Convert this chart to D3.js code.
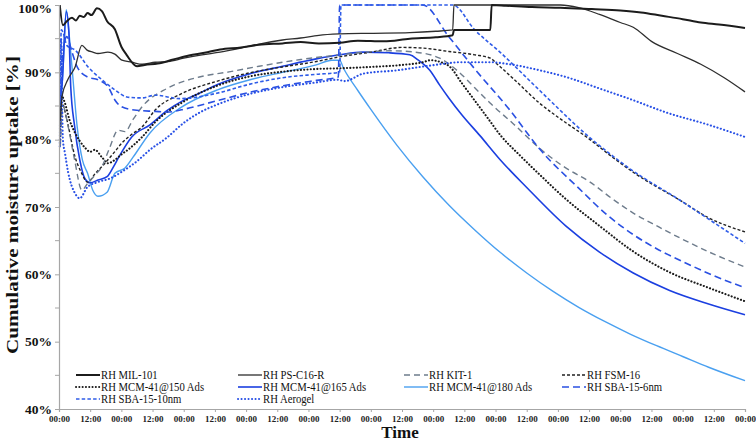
<!DOCTYPE html>
<html><head><meta charset="utf-8">
<script src="https://cdn.jsdelivr.net/npm/d3@7"></script>
<style>
html,body{margin:0;padding:0;background:#fff;}
svg text{font-family:"Liberation Serif","Times New Roman",serif;}
</style></head>
<body><svg id="chart" width="756" height="442"></svg>
<script>
// ---- Data (hours since start, % cumulative moisture uptake) ----
const xTickHours = d3.range(0, 265, 12);
const yMajorTicks = [40, 50, 60, 70, 80, 90, 100];
const yMinorTicks = [45, 55, 65, 75, 85, 95];

const mil101 = [[0.3,100],[1.5,97],[3,97.6],[5,98.1],[6.5,97.7],[8,98.4],[9.5,98.2],[11,98.8],[12.5,98.5],[14.6,99.5],[16.5,99.1],[18.5,97.6],[21.5,96.4],[24,93.8],[26,92.6],[30,90.9],[33,91.1],[38,91.3],[44,91.9],[50,92.5],[56,92.9],[62,93.4],[70,93.7],[77,94.1],[86,94.3],[93,94.5],[100,94.3],[108,94.4],[115,94.7],[125,94.6],[135,95.0],[145,95.2],[151.5,95.5],[152,96.3],[166,96.3],[166.5,100],[172,99.9],[182,99.7],[193,99.6],[205,99.4],[216,99.2],[224,98.9],[232,98.4],[240,97.9],[247,97.4],[254,97.1],[264,96.6]];
const psC16R = [[0.5,83],[1.2,86.5],[3.5,89],[6.2,90.8],[8.8,94],[10.8,93.3],[13,93],[15,92.8],[18.8,93],[21.5,92.7],[24.2,91.8],[28,91.5],[32,91.2],[37,91.5],[42,91.6],[48,92.1],[55,92.6],[62,93.0],[70,93.6],[77,94.2],[86,94.8],[93,95.1],[100,95.5],[108,95.7],[120,95.8],[135,95.9],[145,96.1],[151.5,96.3],[152,100],[175,100],[193,100],[200,99.6],[208,98.6],[216,97.4],[221,96.7],[228,94.6],[238,92.8],[247,91.2],[256,89.2],[264,87.1]];
const kit1 = [[0.5,79],[1.5,85],[3.5,82],[6,77],[8.8,72.5],[11,73.5],[14,74.8],[16.5,76],[19.5,78.8],[22.7,81.4],[25.4,81.2],[28.5,83],[32,84.9],[41.5,87.6],[54,89.3],[66,90.1],[77,90.9],[93,91.9],[108,92.6],[118,93.0],[128,93.2],[137,93.0],[146.5,92.1],[154,90],[160,87.7],[166,85.4],[175,82.3],[185,78.7],[195,75.8],[204,73.8],[213,71.2],[221,69.1],[231,67.0],[240,65.2],[252,63.0],[264,61.1]];
const fsm16 = [[0.5,82],[1.2,85.4],[3,83],[6.2,77.4],[8.5,75.2],[11,73.7],[14,75],[17.7,76.5],[21,78],[24.2,79.5],[28,80.8],[32,81.9],[37,84.4],[47,86.8],[61,88.7],[73,89.9],[86,90.8],[99,91.6],[108,92.3],[120,93.0],[132,93.7],[140,93.6],[150,93.1],[160,92.6],[166,92.1],[169,91.1],[175,89],[185,85.4],[194,82.8],[203,80.4],[213,77.4],[222,74.9],[239,71],[250,68.4],[264,66.3]];
const mcm150 = [[0.5,80],[1,86.5],[2.3,85.4],[4,83],[6.2,81],[8,79.8],[10,78.8],[12,78.2],[13.8,78.5],[16.5,77.4],[18.8,76.5],[21.5,77],[24,77.8],[26.5,78.5],[32,80.4],[37,82.6],[47.7,85.6],[60.8,88],[73.5,89.4],[86,90.1],[99,90.5],[108,90.6],[120,90.8],[132,91.1],[140,91.5],[143,91.8],[147,91.5],[150.5,90.8],[155,88.4],[160,85.8],[165,83.2],[170,80.6],[177,77.8],[185,74.8],[195,71.2],[208,67.2],[221,63.4],[235,60.3],[250,58.0],[264,56.0]];
const mcm165 = [[0.5,86],[1.2,88.4],[2.8,99],[3.8,96],[4.5,88],[6,82],[8,77],[10,74.2],[12,73.6],[15,74],[18.5,74.5],[21,76],[23,77.4],[28,80.4],[35,82.2],[41.5,84.3],[47.7,85.8],[54,86.9],[61,88.2],[73.5,89.8],[86,90.9],[99,92],[108,92.6],[117,93],[127,92.9],[135,92.6],[138,91.9],[142.7,90.3],[146.5,88.1],[150,86.2],[155,83.7],[162,80.6],[169.6,77.1],[180,72.9],[195,67.2],[208,63.3],[221,60.2],[235,57.6],[250,55.6],[264,54]];
const mcm180 = [[0.5,84],[1.5,90],[2.8,99.3],[3.8,96],[5,90.8],[7,81.9],[9,77],[11,75],[13,72.5],[15,71.6],[18.5,72.2],[21.5,75],[25.4,75.8],[28.5,77.4],[35,81],[47,84.8],[61,87.4],[73.5,88.9],[86,90],[99,91.1],[105,91.8],[108,91.8],[109.5,90.6],[115,87.3],[120,84.5],[130,79.2],[140,74.5],[150,70.3],[160,66.6],[170,63.2],[180,60.2],[190,57.5],[200,55.1],[210,53.0],[220,51.1],[230,49.4],[240,47.8],[250,46.2],[264,44.2]];
const sba6 = [[0.3,85],[1.5,93],[3,95.3],[5,93],[7,90.8],[11,89.3],[15,88.9],[19,87.8],[21.5,85.9],[24,84.9],[29,84.4],[37,84.2],[41.5,84.1],[49,84.6],[60,85.7],[73,87],[86,88],[99,88.8],[107.5,89.3],[108,100],[140,100],[150,95.3],[160,90.5],[173.5,84.4],[185,78.6],[200,72.8],[211,68.8],[221,65.9],[230,63.8],[240,61.9],[252,59.8],[264,58]];
const sba10 = [[0.3,86],[0.9,96.3],[1.5,96],[3,94],[6.2,93.3],[11.2,90.8],[16.5,88.9],[21.5,87.4],[26.5,86.3],[32,86.2],[37,86.6],[46.5,86.1],[60.8,86.9],[73,88.2],[86,89.2],[99,89.7],[108,90],[108.5,100],[151.5,100],[160,96.3],[170,92.9],[185,87.3],[204,80.4],[220,75.6],[239,71],[250,68.2],[264,64.6]];
const aerogel = [[0.3,79],[0.8,95],[1.5,80],[2.3,78],[3.5,75.2],[6.2,72],[8,71.3],[11,73],[15,73.7],[20,74.3],[24,75.2],[30,76.8],[35,78.5],[41.5,80.3],[47.7,82.4],[54,84],[60.8,85.2],[73.5,86.8],[86,87.8],[99,88.5],[107,88.9],[110,88.7],[117,89.8],[130,90.3],[142.7,91],[155,91.5],[166,91.5],[173.5,91.2],[185,90.3],[196,89.2],[208,87.6],[220,86],[234,84],[250,82.2],[264,80.4]];

const seriesNames = ["RH MIL-101","RH PS-C16-R","RH KIT-1","RH FSM-16","RH MCM-41@150 Ads","RH MCM-41@165 Ads","RH MCM-41@180 Ads","RH SBA-15-6nm","RH SBA-15-10nm","RH Aerogel"];
const seriesData = [mil101, psC16R, kit1, fsm16, mcm150, mcm165, mcm180, sba6, sba10, aerogel];
const seriesColors = ["#1c1c1c","#2e2e2e","#6e7c8c","#222222","#1a1a1a","#1b3fe0","#4aa0f0","#2a50e2","#2f5ce8","#2850e6"];
const seriesWidths = [2, 1.3, 1.4, 1.4, 2.1, 1.6, 1.4, 1.6, 1.6, 2.1];
const seriesDashes = [null, null, "6,4", "3,2", "0.1,3.2", null, null, "7,4", "3.5,2.2", "0.1,3.4"];

// ---- Layout ----
const svg = d3.select("#chart");
const x = d3.scaleLinear().domain([0, 264]).range([59, 745]);
const y = d3.scaleLinear().domain([40, 100]).range([409, 5]);
const axisColor = "#a6a6a6";

// Lines
const line = d3.line().x(d => x(d[0])).y(d => y(d[1])).curve(d3.curveMonotoneX);
const order = [6,5,4,3,2,7,8,9,1,0];
const isDot = i => seriesDashes[i] && seriesDashes[i].startsWith("0.1");
order.forEach(i => {
  svg.append("path").datum(seriesData[i])
    .attr("d", line).attr("fill","none")
    .attr("stroke", seriesColors[i]).attr("stroke-width", seriesWidths[i])
    .attr("stroke-dasharray", seriesDashes[i])
    .attr("stroke-linecap", isDot(i) ? "round" : "butt")
    .attr("stroke-linejoin","round");
});

// Y axis
const yAxis = d3.axisLeft(y).tickValues(yMajorTicks).tickSize(4).tickFormat(d => d + "%");
const gy = svg.append("g").attr("transform","translate(59,0)").call(yAxis);
gy.select(".domain").attr("stroke", axisColor).attr("stroke-width",1.2);
gy.selectAll(".tick line").attr("stroke", axisColor);
gy.selectAll(".tick text").attr("font-weight","bold")
  .attr("font-size","13.5px").attr("fill","#111").attr("x",-7);
gy.selectAll(".tick text").filter(d => d === 100).attr("dy","0.55em");
gy.append("g").selectAll("line").data(yMinorTicks).join("line")
  .attr("x1",-4).attr("x2",0).attr("y1",d=>y(d)).attr("y2",d=>y(d)).attr("stroke",axisColor);

// X axis
const xAxis = d3.axisBottom(x).tickValues(xTickHours).tickSize(3).tickPadding(4)
  .tickFormat(h => (h % 24 === 0 ? "00:00" : "12:00"));
const gx = svg.append("g").attr("transform","translate(0,409)").call(xAxis);
gx.select(".domain").attr("stroke", axisColor).attr("stroke-width",1.2);
gx.selectAll(".tick line").attr("stroke", axisColor);
gx.selectAll(".tick text").attr("font-weight","bold")
  .attr("font-size","9px").attr("fill","#222");

// Axis titles
svg.append("text").attr("x",400).attr("y",438).attr("text-anchor","middle")
  .attr("font-weight","bold").attr("font-size","17px").attr("fill","#111").text("Time");
svg.append("text").attr("transform","translate(18,205) rotate(-90)").attr("text-anchor","middle")
  .attr("font-weight","bold").attr("font-size","17px").attr("fill","#111")
  .attr("textLength",298).attr("lengthAdjust","spacingAndGlyphs")
  .text("Cumulative moisture uptake [%]");

// Legend
const legX = [76, 238, 404, 562];
const legY = [375, 387, 399];
seriesNames.forEach((name, i) => {
  const col = i % 4, row = Math.floor(i / 4);
  const g = svg.append("g").attr("transform", `translate(${legX[col]},${legY[row]})`);
  g.append("line").attr("x1",0).attr("x2",24).attr("y1",0).attr("y2",0)
    .attr("stroke", seriesColors[i]).attr("stroke-width", Math.min(seriesWidths[i],2))
    .attr("stroke-linecap", isDot(i) ? "round" : "butt")
    .attr("stroke-dasharray", seriesDashes[i]);
  g.append("text").attr("transform","translate(25,4) scale(0.93,1)")
    .attr("font-size","11.5px").attr("fill","#111").text(name);
});
</script></body></html>
